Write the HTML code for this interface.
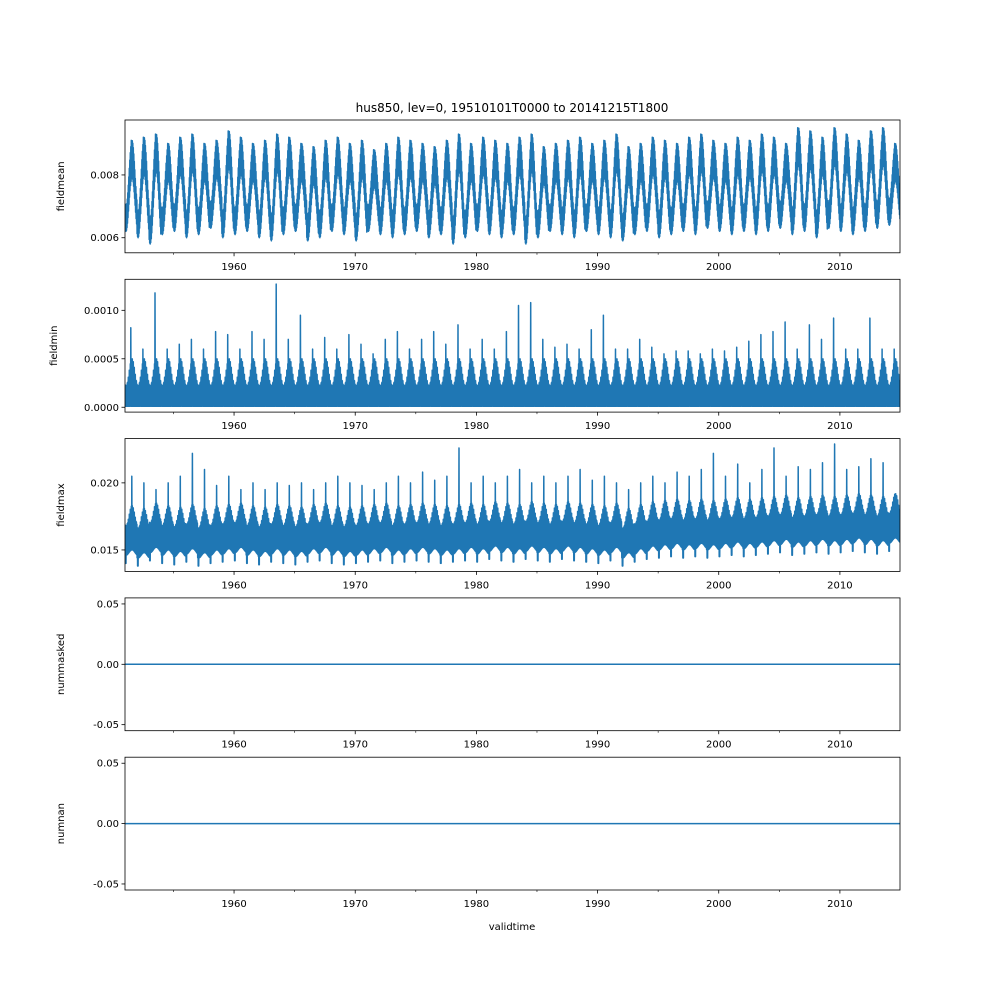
<!DOCTYPE html>
<html><head><meta charset="utf-8"><style>
body{margin:0;background:#fff;font-family:"Liberation Sans","DejaVu Sans",sans-serif}
svg text{font-family:"DejaVu Sans","Liberation Sans",sans-serif;font-size:10px;fill:#000}
</style></head><body>
<svg id="fig" width="1000" height="1000" viewBox="0 0 1000 1000" xmlns="http://www.w3.org/2000/svg">
<rect width="1000" height="1000" fill="#fff"/>
<text x="512" y="112" text-anchor="middle" style="font-size:12px">hus850, lev=0, 19510101T0000 to 20141215T1800</text>
<text x="512" y="930" text-anchor="middle">validtime</text>
</svg>
<script>
const years=[];for(let y=1951;y<=2014;y++)years.push(y);
const meanMax=[0.0091,0.0092,0.0093,0.0090,0.0092,0.0093,0.0090,0.0091,0.0094,0.0092,0.0090,0.0091,0.0093,0.0092,0.0090,0.0089,0.0091,0.0092,0.0090,0.0091,0.0088,0.0090,0.0092,0.0091,0.0090,0.0089,0.0091,0.0093,0.0090,0.0092,0.0091,0.0090,0.0092,0.0093,0.0089,0.0090,0.0091,0.0092,0.0090,0.0091,0.0093,0.0089,0.0090,0.0092,0.0091,0.0090,0.0092,0.0093,0.0091,0.0090,0.0092,0.0091,0.0093,0.0092,0.0090,0.0095,0.0094,0.0092,0.0095,0.0093,0.0091,0.0094,0.0095,0.0090];
const meanMin=[0.0062,0.0060,0.0058,0.0061,0.0062,0.0060,0.0061,0.0063,0.0060,0.0061,0.0062,0.0060,0.0059,0.0061,0.0062,0.0059,0.0060,0.0062,0.0061,0.0059,0.0062,0.0061,0.0060,0.0061,0.0062,0.0060,0.0061,0.0058,0.0060,0.0062,0.0061,0.0060,0.0061,0.0058,0.0060,0.0062,0.0061,0.0060,0.0062,0.0061,0.0060,0.0059,0.0061,0.0062,0.0060,0.0061,0.0062,0.0061,0.0063,0.0062,0.0061,0.0062,0.0061,0.0062,0.0063,0.0061,0.0062,0.0060,0.0063,0.0062,0.0061,0.0062,0.0063,0.0064];
const minSpike=[0.00082,0.0006,0.00118,0.0006,0.00065,0.0007,0.0006,0.00078,0.00075,0.0006,0.00078,0.0007,0.00127,0.0007,0.00095,0.0006,0.00072,0.0006,0.00075,0.00065,0.00055,0.0007,0.00078,0.0006,0.0007,0.00078,0.00065,0.00085,0.0006,0.0007,0.0006,0.00078,0.00105,0.00108,0.0007,0.00062,0.00065,0.0006,0.0008,0.00095,0.0006,0.0006,0.0007,0.00062,0.00055,0.00058,0.00058,0.00055,0.0006,0.00058,0.00062,0.00068,0.00075,0.00078,0.00088,0.0006,0.00085,0.0007,0.00092,0.0006,0.0006,0.00092,0.0006,0.0006];
const maxPeak=[0.0205,0.0200,0.0195,0.0200,0.0205,0.0222,0.0210,0.0198,0.0205,0.0195,0.0200,0.0195,0.0200,0.0198,0.0200,0.0195,0.0200,0.0205,0.0200,0.0198,0.0195,0.0200,0.0205,0.0200,0.0208,0.0202,0.0205,0.0226,0.0200,0.0205,0.0200,0.0205,0.0210,0.0200,0.0205,0.0200,0.0205,0.0210,0.0202,0.0205,0.0200,0.0195,0.0200,0.0205,0.0200,0.0208,0.0205,0.0210,0.0222,0.0205,0.0214,0.0200,0.0210,0.0226,0.0205,0.0212,0.0210,0.0215,0.0229,0.0210,0.0212,0.0218,0.0215,0.0190];
const maxMin=[0.0140,0.0138,0.0142,0.0140,0.0139,0.0141,0.0138,0.0140,0.0141,0.0142,0.0140,0.0139,0.0141,0.0140,0.0139,0.0141,0.0142,0.0140,0.0139,0.0140,0.0141,0.0142,0.0140,0.0141,0.0142,0.0141,0.0140,0.0141,0.0142,0.0141,0.0143,0.0142,0.0141,0.0143,0.0142,0.0141,0.0143,0.0142,0.0141,0.0140,0.0142,0.0138,0.0141,0.0143,0.0144,0.0145,0.0144,0.0145,0.0144,0.0145,0.0146,0.0145,0.0146,0.0147,0.0148,0.0146,0.0147,0.0148,0.0147,0.0148,0.0149,0.0148,0.0147,0.0149];
const xTicks=[1960,1970,1980,1990,2000,2010];
const panels=[
 {name:'fieldmean',top:120,lo:0.00552,hi:0.00975,ticks:[0.006,0.008],fmt:v=>v.toFixed(3)},
 {name:'fieldmin',top:279.3,lo:-0.00005,hi:0.00132,ticks:[0,0.0005,0.001],fmt:v=>v.toFixed(4)},
 {name:'fieldmax',top:438.6,lo:0.0134,hi:0.0233,ticks:[0.015,0.020],fmt:v=>v.toFixed(3)},
 {name:'nummasked',top:597.9,lo:-0.055,hi:0.055,ticks:[-0.05,0,0.05],fmt:v=>v.toFixed(2)},
 {name:'numnan',top:757.2,lo:-0.055,hi:0.055,ticks:[-0.05,0,0.05],fmt:v=>v.toFixed(2)}];
const NS='http://www.w3.org/2000/svg',svg=document.getElementById('fig');
const L=125,R=900,H=132.8,t0=1951.0,t1=2014.96;
const X=t=>L+(t-t0)/(t1-t0)*(R-L);
function mk(tag,at,parent){const e=document.createElementNS(NS,tag);for(const k in at)e.setAttribute(k,at[k]);(parent||svg).appendChild(e);return e;}
panels.forEach((p,pi)=>{
 const Y=v=>p.top+H-(v-p.lo)/(p.hi-p.lo)*H;
 const g=mk('g',{});
 
 
 const cid='c'+pi;
 const cp=mk('clipPath',{id:cid},g);mk('rect',{x:L,y:p.top,width:R-L,height:H},cp);
 let pts=[];
 const N=48;
 if(pi<3){
  years.forEach((yr,i)=>{
   for(let k=0;k<N;k++){
    const t=yr+k/N; if(t>t1)break;
    const s=0.5-0.5*Math.cos(2*Math.PI*(k/N-0.08));
    const odd=k%2===1;
    let v;
    if(pi===0){
      const up=meanMin[i]+0.0008+(meanMax[i]-meanMin[i]-0.0008)*s;
      const low=meanMin[i]+(meanMax[i]-meanMin[i]-0.0012)*s;
      v=odd?up:low;
      if(k===N/2+1)v=meanMax[i];
    }
    else if(pi===1){v=odd?(0.00022+0.00028*s*((k%4===1)?1:0.7)):0.00001;if(k===23)v=minSpike[i];}
    else{
      const up=maxMin[i]+0.0028+0.0015*s*((k%4===1)?1:0.75);
      v=odd?up:maxMin[i]+0.0006+0.0004*s;
      if(k===2||k===4)v=maxMin[i];
      if(k===27)v=maxPeak[i];
    }
    pts.push(X(t).toFixed(1)+','+Y(v).toFixed(1));
   }
  });
 } else {pts=[X(t0)+','+Y(0),X(t1)+','+Y(0)];}
 const line=mk('polyline',{points:pts.join(' '),fill:'none',stroke:'#1f77b4','stroke-width':1.5,'stroke-linejoin':'round','clip-path':'url(#'+cid+')'},g);
 
 
 mk('rect',{x:L,y:p.top,width:R-L,height:H,fill:'none',stroke:'#000','stroke-width':0.8},g);
 p.ticks.forEach(v=>{const y=Y(v);mk('line',{x1:L-3.5,x2:L,y1:y,y2:y,stroke:'#000','stroke-width':0.8},g);
  const tx=mk('text',{x:L-6,y:y+3.5,'text-anchor':'end'},g);tx.textContent=p.fmt(v);
  
  });
 const yl=mk('text',{x:pi===1?57:64,y:p.top+H/2,'text-anchor':'middle',transform:'rotate(-90 '+(pi===1?57:64)+' '+(p.top+H/2)+')'},g);
 yl.textContent=p.name;
 
 
 const yb=p.top+H;
 for(let yr=1955;yr<=2010;yr+=5){const x=X(yr),maj=yr%10===0;mk('line',{x1:x,x2:x,y1:yb,y2:yb+(maj?3.5:2),stroke:'#000','stroke-width':maj?0.8:0.6},g);}
 xTicks.forEach(yr=>{const tx=mk('text',{x:X(yr),y:yb+17,'text-anchor':'middle'},g);tx.textContent=yr;
  
  });
});
</script>
</body></html>
